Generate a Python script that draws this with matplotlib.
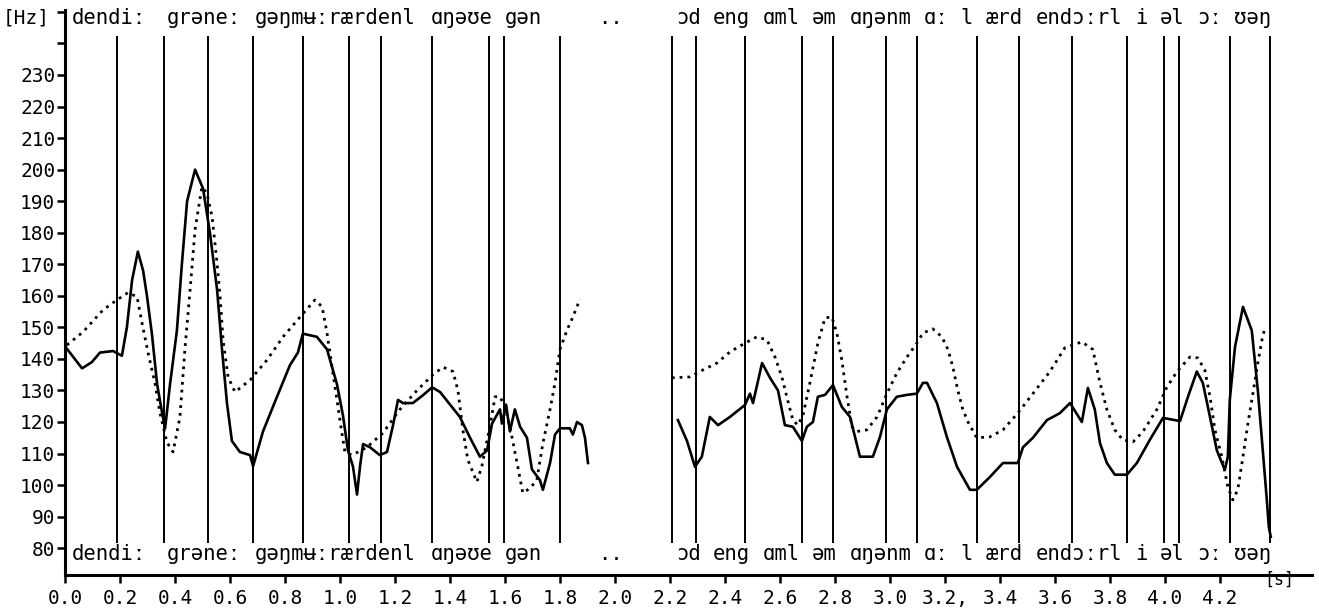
import matplotlib
matplotlib.use("Agg")
import matplotlib.pyplot as plt
import numpy as np

# F0 contours: time [s], frequency [Hz]
# solid = measured, dotted = model; two utterance parts with a pause between
solid1_t = [0.000, 0.062, 0.098, 0.127, 0.175, 0.207, 0.225, 0.244, 0.265, 0.284, 0.298, 0.316,
            0.335, 0.353, 0.364, 0.382, 0.407, 0.425, 0.444, 0.473, 0.502, 0.527, 0.553, 0.571,
            0.589, 0.607, 0.636, 0.673, 0.684, 0.720, 0.771, 0.818, 0.847, 0.865, 0.916, 0.953,
            0.989, 1.011, 1.029, 1.047, 1.062, 1.073, 1.084, 1.109, 1.145, 1.171, 1.193, 1.211,
            1.229, 1.265, 1.302, 1.335, 1.364, 1.436, 1.473, 1.509, 1.535, 1.553, 1.582, 1.589,
            1.604, 1.618, 1.636, 1.655, 1.680, 1.698, 1.727, 1.738, 1.764, 1.782, 1.800, 1.836,
            1.847, 1.862, 1.880, 1.891, 1.902]
solid1_f = [144, 137, 139, 142, 142.5, 141, 150, 165, 174, 168, 160, 148,
            132, 123, 118, 132, 149, 170, 190, 200, 194, 180, 162, 143,
            126, 114, 110.5, 109.5, 106, 117, 128, 138, 142, 148, 147, 143,
            132, 122, 111, 106, 97, 106, 113, 112, 109.5, 110.5, 119, 127,
            126, 126, 128.5, 131, 129.5, 121.6, 115, 109, 111, 119.5, 124, 119.5,
            125.5, 117, 124, 118.5, 115, 105, 101.6, 98.5, 107, 116, 118, 118,
            116, 120, 119, 115, 107]

dotted1_t = [0.007, 0.065, 0.138, 0.189, 0.229, 0.262, 0.280, 0.302, 0.327, 0.345, 0.371, 0.393,
             0.418, 0.436, 0.455, 0.473, 0.498, 0.516, 0.535, 0.553, 0.564, 0.575, 0.593, 0.618,
             0.673, 0.735, 0.793, 0.855, 0.909, 0.935, 0.953, 0.971, 0.989, 1.007, 1.018, 1.044,
             1.098, 1.156, 1.218, 1.280, 1.338, 1.375, 1.411, 1.429, 1.447, 1.465, 1.498, 1.516,
             1.545, 1.564, 1.582, 1.600, 1.618, 1.644, 1.665, 1.691, 1.716, 1.738, 1.764, 1.782,
             1.800, 1.825, 1.847, 1.873]
dotted1_f = [144.4, 148.5, 155.5, 158.7, 161, 159.7, 151.4, 142, 132.4, 123, 113.5, 110.5,
             121.6, 143, 162, 181, 194.5, 192.6, 185, 170.4, 159.7, 146, 134.3, 129.5,
             133.3, 139.7, 147, 153.3, 158.7, 156.5, 148.2, 137.4, 127, 116.5, 110.5, 109.5,
             112, 116.5, 124, 130, 135, 137.4, 136, 130, 117.5, 108, 101, 106,
             118.5, 128, 128, 124.8, 118.5, 107, 97.5, 99, 101.6, 113.3, 124, 132.4,
             143, 149, 153.3, 159]

solid2_t = [2.229, 2.262, 2.291, 2.316, 2.345, 2.375, 2.418, 2.473, 2.491, 2.502, 2.535, 2.564,
            2.593, 2.618, 2.647, 2.680, 2.698, 2.720, 2.738, 2.764, 2.793, 2.825, 2.855, 2.891,
            2.938, 2.964, 2.989, 3.025, 3.062, 3.098, 3.120, 3.135, 3.171, 3.207, 3.244, 3.291,
            3.316, 3.364, 3.411, 3.465, 3.484, 3.520, 3.571, 3.618, 3.655, 3.698, 3.720, 3.745,
            3.764, 3.789, 3.818, 3.862, 3.898, 3.945, 3.993, 4.055, 4.084, 4.116, 4.138, 4.164,
            4.189, 4.218, 4.229, 4.236, 4.255, 4.284, 4.316, 4.338, 4.356, 4.371, 4.378, 4.385]
solid2_f = [120.6, 114, 105.8, 109, 121.6, 119, 121.6, 125.4, 129, 126, 138.7, 134,
            130, 119, 118.5, 114, 118.5, 120, 128, 128.6, 131.7, 124.8, 121.6, 109,
            109, 115.3, 124, 128, 128.6, 129, 132.4, 132.4, 126, 115.3, 105.8, 98.5,
            98.5, 102.6, 107, 107, 112, 115, 120.6, 122.8, 126, 120, 130.8, 124,
            113.3, 107, 103.3, 103.3, 107, 114.3, 121.3, 120.3, 128, 136, 132.4, 121.6,
            111, 104.8, 109, 127, 143.8, 156.5, 149, 130, 111, 95, 86.7, 83.6]

dotted2_t = [2.207, 2.273, 2.320, 2.371, 2.418, 2.473, 2.516, 2.553, 2.582, 2.607, 2.625, 2.647,
             2.665, 2.684, 2.709, 2.738, 2.764, 2.789, 2.807, 2.825, 2.844, 2.862, 2.880, 2.916,
             2.953, 2.989, 3.025, 3.062, 3.098, 3.120, 3.156, 3.189, 3.211, 3.229, 3.247, 3.265,
             3.284, 3.316, 3.364, 3.411, 3.465, 3.520, 3.582, 3.636, 3.698, 3.738, 3.764, 3.789,
             3.818, 3.847, 3.884, 3.920, 3.971, 4.007, 4.044, 4.091, 4.120, 4.145, 4.164, 4.182,
             4.207, 4.229, 4.247, 4.265, 4.284, 4.302, 4.320, 4.338, 4.353, 4.364]
dotted2_f = [134, 134.3, 136.5, 138.7, 142.2, 145, 147, 146, 140.6, 134.3, 128, 120.6,
             119, 122.2, 132.4, 145, 153, 153.3, 148.2, 139.7, 128, 118.5, 117, 117.5,
             121.6, 129, 135.5, 140.6, 145, 148.2, 149.5, 147, 143, 137.4, 130, 124,
             120, 115, 115.3, 117.5, 122.8, 129, 136, 143.5, 145.4, 143, 132.4, 124,
             117.5, 114.3, 113.7, 116.9, 124, 131, 136, 140.6, 140.3, 136.5, 128, 117.5,
             109, 99.4, 95.3, 98.5, 109, 119.6, 129, 138.7, 146, 150]

# segment boundaries [s]
boundaries = [0.189, 0.360, 0.520, 0.684, 0.865, 1.033, 1.149, 1.335, 1.542, 1.596, 1.800,
              2.207, 2.295, 2.473, 2.680, 2.793, 2.985, 3.098, 3.316, 3.469, 3.662, 3.862,
              3.996, 4.051, 4.236, 4.382]

# phonetic transcription chunks and their start times [s]
phon_text = ["dendiː", "grəneː", "gəŋmʉːrærdenl", "ɑŋəʊe", "gən", "..",
             "ɔd", "eng", "ɑml", "əm", "ɑŋənm", "ɑː", "l", "ærd", "endɔːrl",
             "i", "əl", "ɔː", "ʊəŋ"]
phon_t = [0.025, 0.371, 0.691, 1.330, 1.600, 1.94,
          2.222, 2.356, 2.538, 2.716, 2.855, 3.124, 3.258, 3.349, 3.531,
          3.891, 3.982, 4.116, 4.251]

yticks = list(range(80, 231, 10))
xticks = [0.0, 0.2, 0.4, 0.6, 0.8, 1.0, 1.2, 1.4, 1.6, 1.8, 2.0, 2.2, 2.4, 2.6, 2.8,
          3.0, 3.2, 3.4, 3.6, 3.8, 4.0, 4.2]
xlabels = ["0.0", "0.2", "0.4", "0.6", "0.8", "1.0", "1.2", "1.4", "1.6", "1.8", "2.0",
           "2.2", "2.4", "2.6", "2.8", "3.0", "3.2,", "3.4", "3.6", "3.8", "4.0", "4.2"]

plt.rcParams['font.family'] = ['DejaVu Sans Mono', 'DejaVu Sans']

fig = plt.figure(figsize=(13.19, 6.10), dpi=100)
ax = fig.add_axes([65 / 1319, 35 / 610, 1247 / 1319, 565 / 610])
ax.set_xlim(0, 4.535)
ax.set_ylim(71.5, 250.6)

for b in boundaries:
    ax.plot([b, b], [81.5, 242.5], color='black', lw=1.4, solid_capstyle='butt')

ax.plot(solid1_t, solid1_f, color='black', lw=1.9)
ax.plot(solid2_t, solid2_f, color='black', lw=1.9)
ax.plot(dotted1_t, dotted1_f, color='black', lw=2.0, linestyle=(0, (1.0, 1.8)))
ax.plot(dotted2_t, dotted2_f, color='black', lw=2.0, linestyle=(0, (1.0, 1.8)))

for s, t in zip(phon_text, phon_t):
    ax.text(t, 248.0, s, fontsize=14.8, ha='left', va='center')
    ax.text(t, 78.3, s, fontsize=14.8, ha='left', va='center')

for sp in ['top', 'right']:
    ax.spines[sp].set_visible(False)
ax.spines['left'].set_linewidth(2.2)
ax.spines['bottom'].set_linewidth(2.2)

ax.set_yticks(yticks + [240, 250])
ax.set_yticklabels([str(v) for v in yticks] + ['', ''])
ax.set_xticks(xticks)
ax.set_xticklabels(xlabels)
ax.tick_params(axis='y', direction='out', length=6, width=1.8, labelsize=14, pad=1)
ax.tick_params(axis='x', direction='out', length=6, width=1.8, labelsize=14, pad=4)

fig.text(3 / 1319, 1 - 18 / 610, "[Hz]", fontsize=14, ha='left', va='center')
fig.text(1264 / 1319, 1 - 580 / 610, "[s]", fontsize=12, ha='left', va='center')

fig.savefig("out.png", dpi=100)
